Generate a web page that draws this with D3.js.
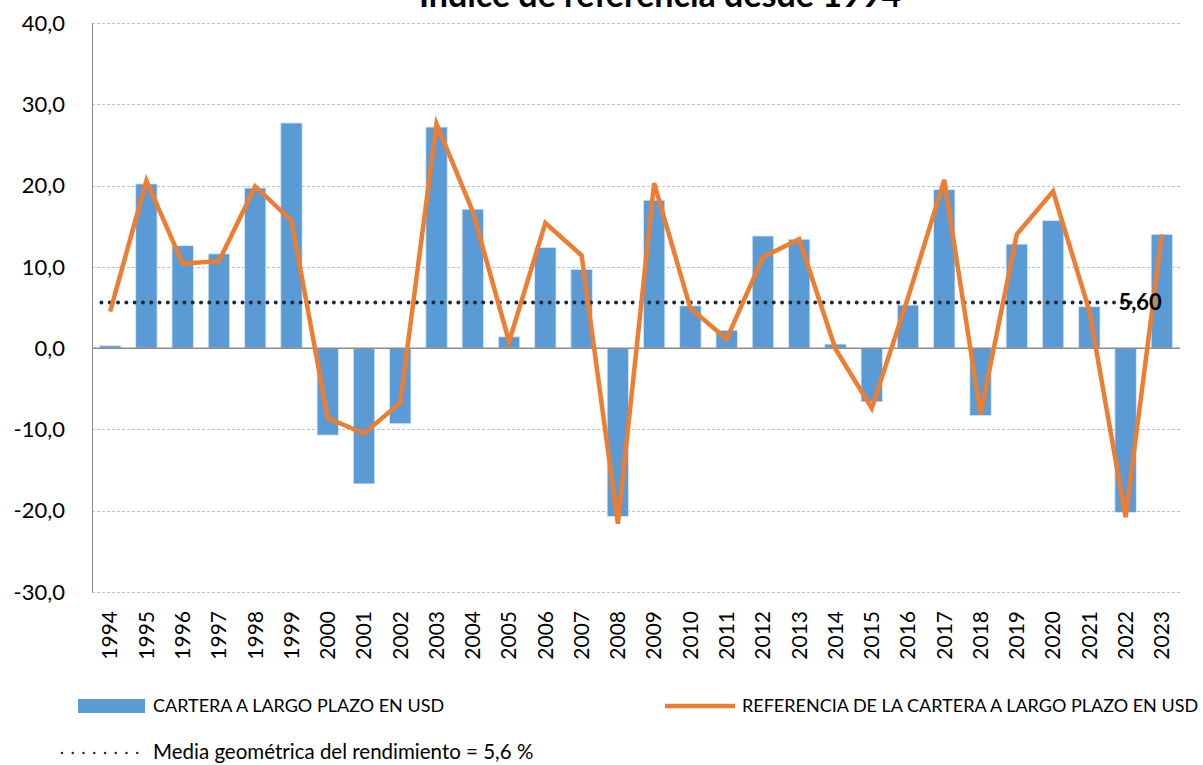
<!DOCTYPE html>
<html lang="es">
<head>
<meta charset="utf-8">
<title>Índice de referencia desde 1994</title>
<script src="https://cdnjs.cloudflare.com/ajax/libs/d3/7.8.5/d3.min.js"></script>
<style>
body { margin: 0; background: #fff; }
text { font-family: Lato, "Open Sans", sans-serif; fill: #000; }
.grid line { stroke: #bfbfbf; stroke-dasharray: 3,2; stroke-width: 1; }
.bar { fill: #5b9bd5; stroke: #dbe8f5; stroke-width: 0.8; }
.ref { fill: none; stroke: #ed7d31; stroke-width: 4.5; stroke-linejoin: miter; }
.mean { stroke: #1e2a38; stroke-width: 4; stroke-dasharray: 0,8.3; stroke-linecap: round; }
</style>
</head>
<body>
<div id="chart"></div>
<script>

const w = 1203;
const h = 765;

// data
const years = ["1994","1995","1996","1997","1998","1999","2000","2001","2002","2003",
   "2004","2005","2006","2007","2008","2009","2010","2011","2012","2013",
   "2014","2015","2016","2017","2018","2019","2020","2021","2022","2023"];
const cartera = [0.3, 20.2, 12.6, 11.6, 19.7, 27.7, -10.7, -16.7, -9.3, 27.2,
   17.1, 1.4, 12.4, 9.7, -20.7, 18.2, 5.2, 2.2, 13.8, 13.4,
   0.5, -6.6, 5.3, 19.5, -8.3, 12.8, 15.7, 5.1, -20.2, 14.0];
const referencia = [4.5, 20.6, 10.4, 10.7, 19.9, 15.7, -8.6, -10.5, -6.7, 27.6,
   16.8, 0.8, 15.4, 11.4, -21.6, 20.3, 4.9, 1.1, 11.2, 13.4,
   -0.1, -7.4, 6.2, 20.7, -8.1, 14.0, 19.3, 4.6, -20.8, 14.0];
const mediaGeo = 5.6;
const yTicks = [-30, -20, -10, 0, 10, 20, 30, 40];

const m = { left: 92, right: 1180, top: 23, bottom: 592 };

const svg = d3.select("#chart").append("svg")
   .attr("width", w)
   .attr("height", h);

const x = d3.scaleBand()
   .domain(years)
   .range([m.left, m.right])
   .paddingInner(0.41)
   .paddingOuter(0.205);

const y = d3.scaleLinear()
   .domain([-30, 40])
   .range([m.bottom, m.top]);

const fmt = v => d3.format(".1f")(v).replace(".", ",").replace("−", "-");

// gridlines
svg.append("g")
   .attr("class", "grid")
   .selectAll("line")
   .data(yTicks.filter(d => d !== 0))
   .join("line")
   .attr("x1", m.left)
   .attr("x2", m.right)
   .attr("y1", d => Math.round(y(d)) + 0.5)
   .attr("y2", d => Math.round(y(d)) + 0.5);

// y axis line
svg.append("line")
   .attr("x1", m.left + 0.5).attr("x2", m.left + 0.5)
   .attr("y1", m.top).attr("y2", m.bottom)
   .attr("stroke", "#8c8c8c");

// y labels
svg.append("g")
   .selectAll("text")
   .data(yTicks)
   .join("text")
   .attr("x", 65)
   .attr("y", d => y(d))
   .attr("dy", "0.35em")
   .attr("text-anchor", "end")
   .style("font-size", "22px")
   .text(fmt);

// bars
svg.append("g")
   .selectAll("rect")
   .data(cartera)
   .join("rect")
   .attr("class", "bar")
   .attr("x", (d, i) => x(years[i]))
   .attr("width", x.bandwidth())
   .attr("y", d => y(Math.max(0, d)))
   .attr("height", d => Math.abs(y(d) - y(0)));

// zero line
svg.append("line")
   .attr("x1", m.left).attr("x2", m.right)
   .attr("y1", y(0)).attr("y2", y(0))
   .attr("stroke", "#8c8c8c")
   .attr("stroke-width", 1.5);

// geometric mean, dotted
svg.append("line")
   .attr("class", "mean")
   .attr("x1", x(years[0]) + 2)
   .attr("x2", x(years[28]) + x.bandwidth() + 10)
   .attr("y1", y(mediaGeo))
   .attr("y2", y(mediaGeo));

// benchmark line
const line = d3.line()
   .x((d, i) => x(years[i]) + x.bandwidth() / 2)
   .y(d => y(d));

svg.append("path")
   .datum(referencia)
   .attr("class", "ref")
   .attr("d", line);

svg.append("text")
   .attr("x", x(years[29]) + x.bandwidth() / 2)
   .attr("y", y(mediaGeo))
   .attr("dy", "0.35em")
   .attr("text-anchor", "end")
   .style("font-size", "22px")
   .style("font-weight", "bold")
   .text(fmt(mediaGeo).replace(",6", ",60"));

// x labels
svg.append("g")
   .selectAll("text")
   .data(years)
   .join("text")
   .attr("transform", d => `translate(${x(d) + x.bandwidth() / 2},${m.bottom + 19}) rotate(-90)`)
   .attr("dy", "0.35em")
   .attr("text-anchor", "end")
   .style("font-size", "21px")
   .text(d => d);

// title (cut at the top)
svg.append("text")
   .attr("x", 660)
   .attr("y", 7)
   .attr("text-anchor", "middle")
   .style("font-size", "34px")
   .style("font-weight", "bold")
   .text("Índice de referencia desde 1994");

// legend
const lg = svg.append("g").style("font-size", "18px");
lg.append("rect")
   .attr("x", 78).attr("y", 699)
   .attr("width", 67).attr("height", 14)
   .attr("fill", "#5b9bd5");
lg.append("text")
   .attr("x", 153).attr("y", 706).attr("dy", "0.35em")
   .text("CARTERA A LARGO PLAZO EN USD");
lg.append("line")
   .attr("x1", 665).attr("x2", 735)
   .attr("y1", 706).attr("y2", 706)
   .attr("stroke", "#ed7d31").attr("stroke-width", 4.5);
lg.append("text")
   .attr("x", 742).attr("y", 706).attr("dy", "0.35em")
   .text("REFERENCIA DE LA CARTERA A LARGO PLAZO EN USD");
lg.append("line")
   .attr("x1", 62).attr("x2", 148)
   .attr("y1", 753).attr("y2", 753)
   .attr("stroke", "#1e2a38")
   .attr("stroke-width", 2.5)
   .attr("stroke-linecap", "round")
   .attr("stroke-dasharray", "0,10.75");
lg.append("text")
   .attr("x", 153).attr("y", 752).attr("dy", "0.35em")
   .style("font-size", "20.5px")
   .text("Media geométrica del rendimiento = 5,6 %");

</script>
</body>
</html>
